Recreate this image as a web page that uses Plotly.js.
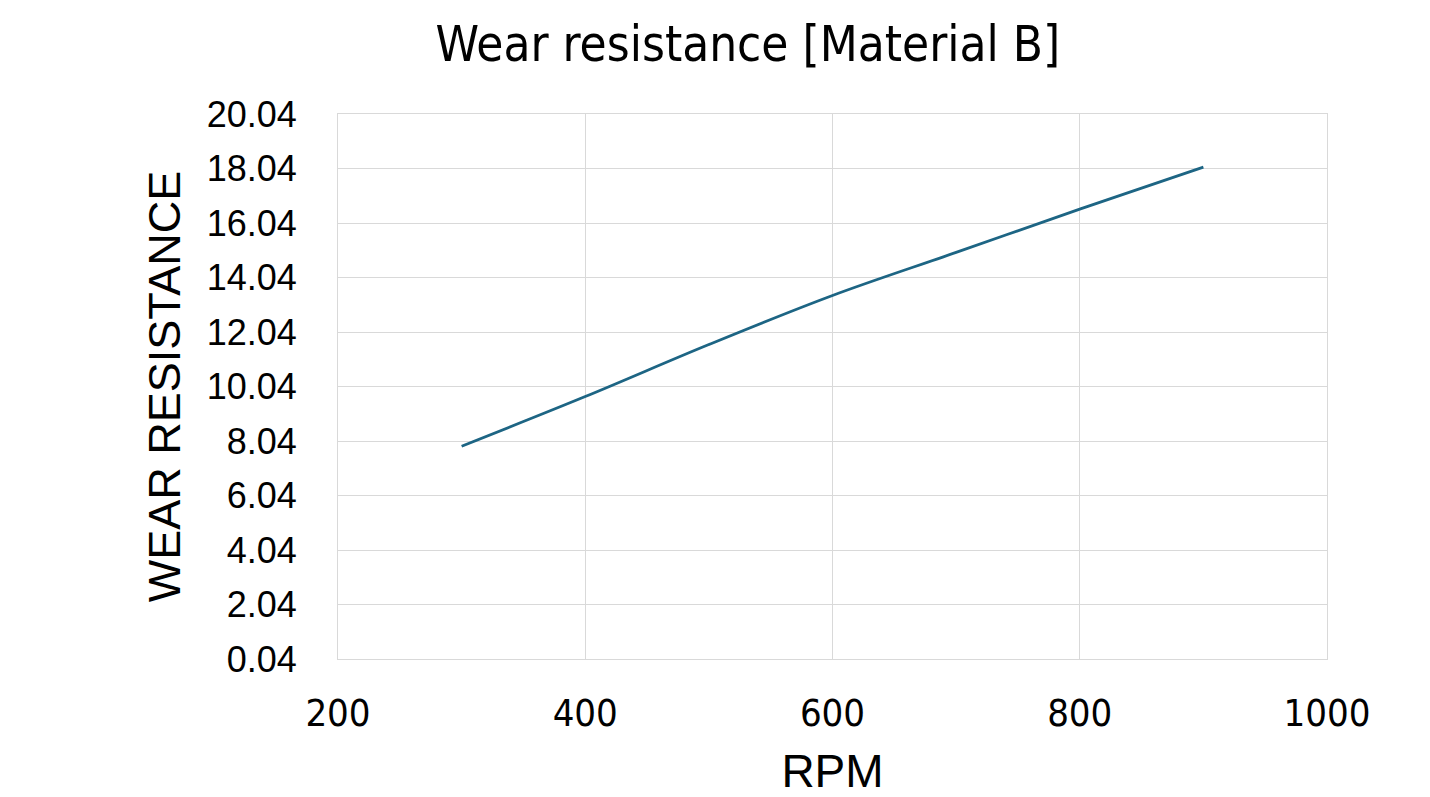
<!DOCTYPE html>
<html>
<head>
<meta charset="utf-8">
<script src="https://cdn.plot.ly/plotly-3.0.1.min.js"></script>
<style>html,body{margin:0;padding:0;background:#fff;}#chart{width:1430px;height:797px;}</style>
</head>
<body>
<div id="chart"></div>
<script>
const rpm = [300, 400, 500, 600, 700, 800, 900];
const wearResistance = [7.85, 9.67, 11.58, 13.38, 14.96, 16.55, 18.09];
const yTicks = [0.04, 2.04, 4.04, 6.04, 8.04, 10.04, 12.04, 14.04, 16.04, 18.04, 20.04];
const xTicks = [200, 400, 600, 800, 1000];

const narrow = '"Liberation Sans Narrow", "Arial Narrow", "DejaVu Sans Condensed", Roboto, sans-serif';

Plotly.newPlot('chart', [{
  x: rpm,
  y: wearResistance,
  type: 'scatter',
  mode: 'lines',
  line: {color: '#1d6584', width: 2.8, shape: 'spline', smoothing: 1},
  showlegend: false,
  hoverinfo: 'x+y'
}], {
  width: 1430,
  height: 797,
  paper_bgcolor: '#ffffff',
  plot_bgcolor: '#ffffff',
  margin: {l: 338, r: 103, t: 114, b: 138},
  title: {
    text: 'Wear resistance [Material B]',
    font: {family: narrow, size: 49, color: '#000000'},
    x: 0.523, xanchor: 'center',
    y: 0.945, yanchor: 'middle', yref: 'container'
  },
  xaxis: {
    range: [200, 1000],
    tickvals: xTicks,
    ticktext: xTicks.map(String),
    showgrid: true,
    gridcolor: '#d9d9d9',
    gridwidth: 1,
    showline: true,
    linecolor: '#d9d9d9',
    mirror: true,
    zeroline: false,
    ticks: '',
    ticklabelstandoff: 20,
    tickfont: {family: narrow, size: 38, color: '#000000'},
    title: {text: 'RPM', font: {family: 'Liberation Sans, Arial, sans-serif', size: 46, color: '#000000'}, standoff: 26}
  },
  yaxis: {
    range: [0.04, 20.04],
    tickvals: yTicks,
    ticktext: yTicks.map(v => v.toFixed(2)),
    showgrid: true,
    gridcolor: '#d9d9d9',
    gridwidth: 1,
    showline: true,
    linecolor: '#d9d9d9',
    mirror: true,
    zeroline: false,
    ticks: '',
    ticklabelstandoff: 33,
    tickfont: {family: 'Liberation Sans, Arial, sans-serif', size: 36, color: '#000000'},
    title: {text: 'WEAR RESISTANCE', font: {family: 'Liberation Sans, Arial, sans-serif', size: 45, color: '#000000'}, standoff: 11}
  }
}, {displayModeBar: false, staticPlot: true});
</script>
</body>
</html>
